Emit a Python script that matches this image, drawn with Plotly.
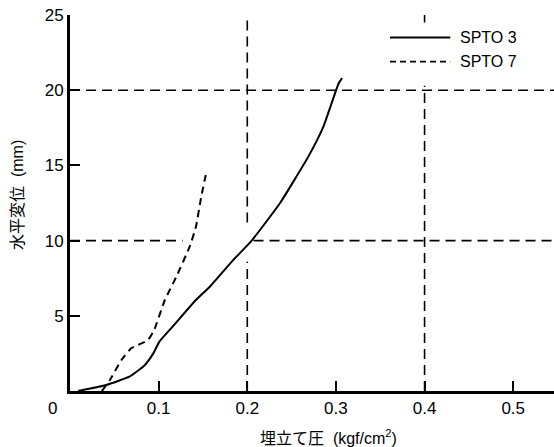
import plotly.graph_objects as go

# SPTO 3 (solid)
spto3_x = [0.009, 0.041, 0.067, 0.084, 0.094, 0.101, 0.116, 0.142, 0.158, 0.184, 0.205, 0.237, 0.269, 0.286, 0.303, 0.307]
spto3_y = [0.0, 0.4, 0.95, 1.7, 2.5, 3.3, 4.3, 6.05, 6.95, 8.7, 10.0, 12.5, 15.6, 17.6, 20.45, 20.8]

# SPTO 7 (dashed)
spto7_x = [0.036, 0.045, 0.058, 0.069, 0.088, 0.095, 0.107, 0.120, 0.135, 0.142, 0.148, 0.154]
spto7_y = [0.0, 0.73, 2.06, 2.84, 3.39, 4.06, 6.05, 7.6, 9.6, 10.9, 12.9, 14.6]

x_ticks = [0.1, 0.2, 0.3, 0.4, 0.5]
x_labels = ["0.1", "0.2", "0.3", "0.4", "0.5"]
y_ticks = [5, 10, 15, 20, 25]
y_labels = ["5", "10", "15", "20", "25"]

series_names = ["SPTO 3", "SPTO 7"]

FONT = "Liberation Sans, Noto Sans CJK JP, sans-serif"
XMAX, YMAX = 0.546, 25
PLOT_W, PLOT_H = 484, 376
INK = "black"

fig = go.Figure()
fig.add_trace(go.Scatter(x=spto3_x, y=spto3_y, mode="lines", name=series_names[0],
                         line=dict(color=INK, width=2, shape="spline", smoothing=0.4),
                         showlegend=False))
fig.add_trace(go.Scatter(x=spto7_x, y=spto7_y, mode="lines", name=series_names[1],
                         line=dict(color=INK, width=2, dash="7px,5px", shape="spline", smoothing=0.4),
                         showlegend=False))

grid_dash = "10px,6px"
def gline(x0, y0, x1, y1):
    fig.add_shape(type="line", x0=x0, y0=y0, x1=x1, y1=y1, xref="x", yref="y",
                  line=dict(color=INK, width=1.6, dash=grid_dash))

# horizontal reference lines
gline(0, 20, XMAX, 20)
gline(0, 10, 0.127, 10)
gline(0.207, 10, XMAX, 10)
# vertical reference lines
gline(0.2, 0, 0.2, 8.6)
gline(0.2, 11.2, 0.2, 25.0)
gline(0.4, 0, 0.4, 20.3)
gline(0.4, 24.5, 0.4, 25.0)

# manual legend
fig.add_shape(type="line", x0=0.361, x1=0.429, y0=23.5, y1=23.5, xref="x", yref="y",
              line=dict(color=INK, width=2))
fig.add_shape(type="line", x0=0.361, x1=0.429, y0=21.9, y1=21.9, xref="x", yref="y",
              line=dict(color=INK, width=1.6, dash="6px,4px"))
fig.add_annotation(x=0.438, y=23.5, xref="x", yref="y", text=series_names[0], showarrow=False,
                   xanchor="left", yanchor="middle", font=dict(size=16, color=INK, family=FONT))
fig.add_annotation(x=0.438, y=21.9, xref="x", yref="y", text=series_names[1], showarrow=False,
                   xanchor="left", yanchor="middle", font=dict(size=16, color=INK, family=FONT))

# origin label
fig.add_annotation(x=0, y=0, xref="x", yref="y", text="0", showarrow=False,
                   xanchor="center", yanchor="middle", xshift=-18, yshift=-17,
                   font=dict(size=17, color=INK, family=FONT))

# axis titles
fig.add_annotation(x=(328 - 70) / PLOT_W, y=(391 - 437) / PLOT_H, xref="paper", yref="paper",
                   text="埋立て圧  (kgf/cm<sup>2</sup>)", showarrow=False,
                   xanchor="center", yanchor="middle",
                   font=dict(size=16, color=INK, family=FONT))
fig.add_annotation(x=(17 - 70) / PLOT_W, y=(391 - 195) / PLOT_H, xref="paper", yref="paper",
                   text="水平変位  (mm)", textangle=-90, showarrow=False,
                   xanchor="center", yanchor="middle",
                   font=dict(size=16, color=INK, family=FONT))

fig.update_layout(
    width=554, height=447,
    margin=dict(l=70, r=0, t=15, b=56),
    paper_bgcolor="white", plot_bgcolor="white",
    font=dict(family=FONT, color=INK, size=17),
    xaxis=dict(range=[0, XMAX], tickvals=x_ticks, ticktext=x_labels,
               ticks="inside", ticklen=10, tickcolor=INK, tickwidth=1.8,
               showline=True, linecolor=INK, linewidth=2.5, showgrid=False, zeroline=False,
               tickfont=dict(size=17, color=INK)),
    yaxis=dict(range=[0, YMAX], tickvals=y_ticks, ticktext=y_labels,
               ticks="inside", ticklen=10, tickcolor=INK, tickwidth=1.8,
               showline=True, linecolor=INK, linewidth=3, showgrid=False, zeroline=False,
               tickfont=dict(size=17, color=INK)),
)

fig.write_html("out.html")
